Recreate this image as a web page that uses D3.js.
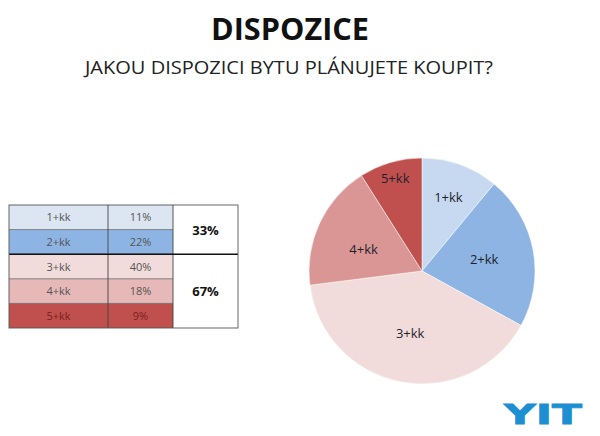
<!DOCTYPE html>
<html>
<head>
<meta charset="utf-8">
<script src="https://cdn.jsdelivr.net/npm/d3@7"></script>
<style>
  body { margin: 0; background: #fff; }
  svg { display: block; font-family: "Open Sans", sans-serif; }
</style>
</head>
<body>
<script>
// data
const categories = ["1+kk", "2+kk", "3+kk", "4+kk", "5+kk"];
const shares = [11, 22, 40, 18, 9];
const groupLabels = ["33%", "67%"];
const groupRows = [[0, 2], [2, 5]];

const pieColors = ["#c6d9f1", "#8db4e2", "#f2dcdb", "#da9694", "#c0504d"];
const tableColors = ["#dce6f2", "#8eb4e3", "#f2dcdb", "#e6b9b8", "#c0504d"];
const labelRadius = [0.69, 0.56, 0.56, 0.55, 0.85];

const width = 600, height = 436;
const svg = d3.select("body").append("svg").attr("width", width).attr("height", height);

// titles
svg.append("text").text("DISPOZICE")
    .attr("x", 290).attr("y", 40)
    .attr("text-anchor", "middle")
    .attr("font-weight", "bold").attr("font-size", 30)
    .attr("textLength", 158).attr("lengthAdjust", "spacingAndGlyphs")
    .attr("fill", "#111");
svg.append("text").text("JAKOU DISPOZICI BYTU PLÁNUJETE KOUPIT?")
    .attr("x", 289).attr("y", 74)
    .attr("text-anchor", "middle")
    .attr("font-size", 19)
    .attr("textLength", 408).attr("lengthAdjust", "spacingAndGlyphs")
    .attr("fill", "#222");

// table
const x = d3.scaleOrdinal().domain(["cat", "val", "grp"]).range([9, 108, 173]);
const colW = {cat: 99, val: 65, grp: 65};
const y = d3.scaleBand().domain(d3.range(categories.length)).range([205, 328]);
const table = svg.append("g");

const rows = table.selectAll("g.row").data(categories).join("g").attr("class", "row");
rows.append("rect")
    .attr("x", x("cat")).attr("y", (d, i) => y(i))
    .attr("width", colW.cat + colW.val).attr("height", y.bandwidth())
    .attr("fill", (d, i) => tableColors[i]);
rows.append("text").text(d => d)
    .attr("x", x("cat") + colW.cat / 2).attr("y", (d, i) => y(i) + y.bandwidth() / 2 + 4)
    .attr("text-anchor", "middle").attr("font-size", 11)
    .attr("fill", (d, i) => i === 4 ? "#7a1f1d" : "#555");
rows.append("text").text((d, i) => shares[i] + "%")
    .attr("x", x("val") + colW.val / 2).attr("y", (d, i) => y(i) + y.bandwidth() / 2 + 4)
    .attr("text-anchor", "middle").attr("font-size", 11)
    .attr("fill", (d, i) => i === 4 ? "#7a1f1d" : "#555");

// row separators
rows.filter((d, i) => i > 0).append("line")
    .attr("x1", x("cat")).attr("x2", x("grp"))
    .attr("y1", (d, i) => y(i + 1)).attr("y2", (d, i) => y(i + 1))
    .attr("stroke", "#6b6b6b").attr("stroke-width", 0.8);

// group cells
groupRows.forEach((g, k) => {
  const y0 = y(g[0]), y1 = g[1] < categories.length ? y(g[1]) : y.range()[1];
  table.append("rect")
      .attr("x", x("grp")).attr("y", y0)
      .attr("width", colW.grp).attr("height", y1 - y0)
      .attr("fill", "#fff");
  table.append("text").text(groupLabels[k])
      .attr("x", x("grp") + colW.grp / 2).attr("y", (y0 + y1) / 2 + 5)
      .attr("text-anchor", "middle").attr("font-size", 13).attr("font-weight", "bold")
      .attr("fill", "#111");
});

// column lines and borders
[x("val"), x("grp")].forEach(cx => {
  table.append("line").attr("x1", cx).attr("x2", cx)
      .attr("y1", y.range()[0]).attr("y2", y.range()[1])
      .attr("stroke", "#444").attr("stroke-width", 0.9);
});
table.append("line")
    .attr("x1", x("cat")).attr("x2", x("grp") + colW.grp)
    .attr("y1", y(groupRows[1][0])).attr("y2", y(groupRows[1][0]))
    .attr("stroke", "#111").attr("stroke-width", 1.4);
table.append("rect")
    .attr("x", x("cat")).attr("y", y.range()[0])
    .attr("width", colW.cat + colW.val + colW.grp).attr("height", y.range()[1] - y.range()[0])
    .attr("fill", "none").attr("stroke", "#555").attr("stroke-width", 0.9);

// pie
const cx = 422, cy = 271, r = 113;
const pie = d3.pie().sort(null).value(d => d)(shares);
const arc = d3.arc().innerRadius(0).outerRadius(r);
const pg = svg.append("g").attr("transform", `translate(${cx},${cy})`);
pg.selectAll("path").data(pie).join("path")
    .attr("d", arc)
    .attr("fill", (d, i) => pieColors[i])
    .attr("stroke", "#fff").attr("stroke-width", 0.5);
pg.selectAll("text").data(pie).join("text")
    .attr("transform", (d, i) => {
      const a = (d.startAngle + d.endAngle) / 2 - (i === 3 ? 0.09 : 0);
      const k = labelRadius[i] * r;
      return `translate(${Math.sin(a) * k},${-Math.cos(a) * k + 4.5})`;
    })
    .attr("text-anchor", "middle").attr("font-size", 13)
    .attr("fill", "#1f1f2e")
    .text((d, i) => categories[i]);

// logo
svg.append("text").text("YIT")
    .attr("x", 543).attr("y", 424)
    .attr("text-anchor", "middle")
    .attr("font-family", "DejaVu Sans").attr("font-weight", "bold").attr("font-size", 27)
    .attr("textLength", 78).attr("lengthAdjust", "spacingAndGlyphs")
    .attr("fill", "#1b8fd2").attr("stroke", "#1b8fd2").attr("stroke-width", 0.8);
</script>
</body>
</html>
